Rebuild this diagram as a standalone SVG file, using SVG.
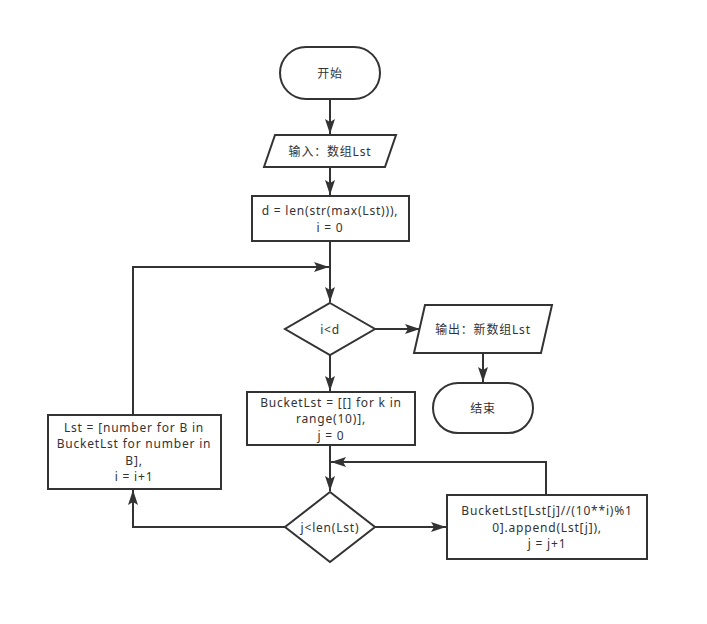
<svg xmlns="http://www.w3.org/2000/svg" width="707" height="624" viewBox="0 0 707 624">
<defs>
<style>
.s{fill:#fff;stroke:#333;stroke-width:2}
.t{font-family:"Noto Sans","Noto Sans CJK SC",sans-serif;font-size:12px;letter-spacing:0.8px;fill:#333;text-anchor:middle;dominant-baseline:central}
.c{fill:none;stroke:#333;stroke-width:2}
</style>
<marker id="a" markerUnits="userSpaceOnUse" markerWidth="16" markerHeight="12" refX="15" refY="5" orient="auto">
<path d="M0,0 L15,5 L0,10 L3,5 Z" fill="#333"/>
</marker>
</defs>
<rect width="707" height="624" fill="#fff"/>
<g id="connectors">
<path class="c" d="M330,99 V134" marker-end="url(#a)"/>
<path class="c" d="M330,167 V195" marker-end="url(#a)"/>
<path class="c" d="M330,241 V302" marker-end="url(#a)"/>
<path class="c" d="M375,329 H420" marker-end="url(#a)"/>
<path class="c" d="M483,353 V382" marker-end="url(#a)"/>
<path class="c" d="M330,355 V391" marker-end="url(#a)"/>
<path class="c" d="M330,445 V491" marker-end="url(#a)"/>
<path class="c" d="M375,527 H446" marker-end="url(#a)"/>
<path class="c" d="M546,495 V462 H331" marker-end="url(#a)"/>
<path class="c" d="M285,527 H133 V490" marker-end="url(#a)"/>
<path class="c" d="M133,415 V267 H329" marker-end="url(#a)"/>
</g>
<g id="start">
<rect class="s" x="280" y="47" width="100" height="52" rx="26" ry="26"/>
<text class="t" x="330" y="73">开始</text>
</g>
<g id="input">
<polygon class="s" points="275,135 396,135 385,167 264,167"/>
<text class="t" x="330" y="151">输入：数组Lst</text>
</g>
<g id="init">
<rect class="s" x="252" y="196" width="157" height="45"/>
<text class="t" x="330" y="210.5">d = len(str(max(Lst))),</text>
<text class="t" x="330" y="227">i = 0</text>
</g>
<g id="cond-i">
<polygon class="s" points="330,303 375,329 330,355 285,329"/>
<text class="t" x="330" y="329">i&lt;d</text>
</g>
<g id="output">
<polygon class="s" points="425,305 552,305 541,353 414,353"/>
<text class="t" x="483" y="329">输出：新数组Lst</text>
</g>
<g id="end">
<rect class="s" x="433" y="383" width="100" height="50" rx="25" ry="25"/>
<text class="t" x="483" y="408">结束</text>
</g>
<g id="bucket">
<rect class="s" x="247" y="392" width="168" height="53"/>
<text class="t" x="331" y="402">BucketLst = [[] for k in</text>
<text class="t" x="331" y="418.5">range(10)],</text>
<text class="t" x="331" y="435">j = 0</text>
</g>
<g id="cond-j">
<polygon class="s" points="330,492 375,527 330,562 285,527"/>
<text class="t" x="330" y="527">j&lt;len(Lst)</text>
</g>
<g id="append">
<rect class="s" x="447" y="495" width="200" height="64"/>
<text class="t" x="547" y="510.5">BucketLst[Lst[j]//(10**i)%1</text>
<text class="t" x="547" y="527">0].append(Lst[j]),</text>
<text class="t" x="547" y="543.5">j = j+1</text>
</g>
<g id="flatten">
<rect class="s" x="48" y="415" width="173" height="74"/>
<text class="t" x="134" y="427.25">Lst = [number for B in</text>
<text class="t" x="134" y="443.75">BucketLst for number in</text>
<text class="t" x="134" y="460.25">B],</text>
<text class="t" x="134" y="476.75">i = i+1</text>
</g>
</svg>
